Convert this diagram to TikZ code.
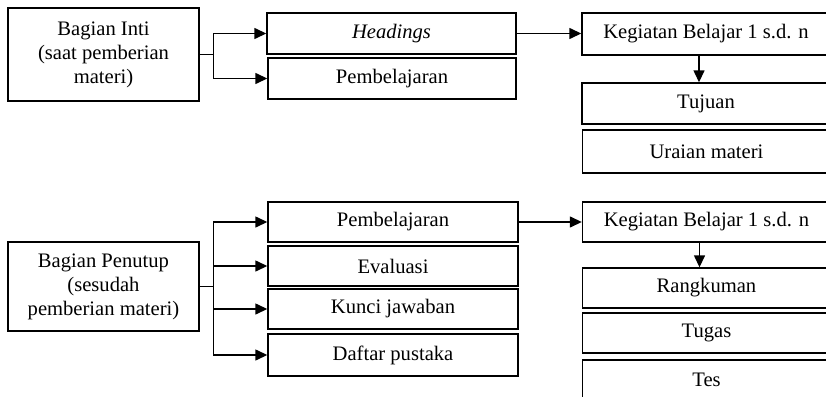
\documentclass[tikz,border=0pt]{standalone}
\usepackage{fontspec}
\setmainfont{Liberation Serif}
\usetikzlibrary{arrows.meta}
\begin{document}
\begin{tikzpicture}[x=1pt,y=-1pt,
  box node/.style={draw,line width=1.4pt,minimum width=248pt,minimum height=41pt,
    inner sep=0pt,align=center,font=\fontsize{20.6}{24}\selectfont},
  main node/.style={box node,minimum width=191pt},
  link/.style={line width=1.4pt},
  arrow/.style={link,-{Triangle[length=12pt,width=11pt]}}]
  \useasboundingbox (0,0) rectangle (826,396);
  \clip (0,0) rectangle (826,396);

  % upper part
  \node[main node,minimum height=93pt] (inti) at (103.5,54.5) {Bagian Inti\\(saat pemberian\\materi)};
  \node[box node,minimum width=249pt] (head) at (391.5,33.5) {\textit{Headings}};
  \node[box node] (pemb1) at (392,78.5) {Pembelajaran};
  \node[box node,minimum height=42pt] (keg1) at (706,34) {Kegiatan Belajar 1 s.d. n};
  \node[box node] (tuj) at (706,103.5) {Tujuan};
  \node[box node,minimum height=43pt] (urai) at (706.5,151.5) {Uraian materi};
  \coordinate (j1) at ([xshift=14pt]inti.east);

  % lower part
  \node[main node,minimum height=89pt] (tutup) at (103.5,286.5) {Bagian Penutup\\(sesudah\\pemberian materi)};
  \node[box node,minimum width=250pt,minimum height=40pt] (pemb2) at (393,222) {Pembelajaran};
  \node[box node,minimum width=250pt,minimum height=40pt] (eval) at (393,266) {Evaluasi};
  \node[box node,minimum width=250pt,minimum height=40pt] (kunci) at (393,309) {Kunci jawaban};
  \node[box node,minimum width=250pt,minimum height=42pt] (daftar) at (393,355) {Daftar pustaka};
  \node[box node,minimum height=40pt] (keg2) at (706.5,222) {Kegiatan Belajar 1 s.d. n};
  \node[box node,minimum height=40pt] (rangk) at (706.5,288) {Rangkuman};
  \node[box node,minimum height=40pt] (tugas) at (706.5,333) {Tugas};
  \node[box node,minimum height=40pt] (tes) at (706.5,380) {Tes};
  \coordinate (j2) at ([xshift=14pt]tutup.east);

  \draw[link] (inti.east) -- (j1);
  \draw[arrow] (j1) |- (head.west);
  \draw[arrow] (j1) |- (pemb1.west);
  \draw[arrow] (head.east) -- (head.east -| keg1.west);
  \draw[arrow] ([xshift=-7pt]keg1.south) -- ([xshift=-7pt]tuj.north);

  \draw[link] (tutup.east) -- (j2);
  \draw[arrow] (j2) |- (pemb2.west);
  \draw[arrow] (j2) |- (eval.west);
  \draw[arrow] (j2) |- (kunci.west);
  \draw[arrow] (j2) |- (daftar.west);
  \draw[arrow] (pemb2.east) -- (pemb2.east -| keg2.west);
  \draw[arrow] ([xshift=-7pt]keg2.south) -- ([xshift=-7pt]rangk.north);
\end{tikzpicture}
\end{document}
